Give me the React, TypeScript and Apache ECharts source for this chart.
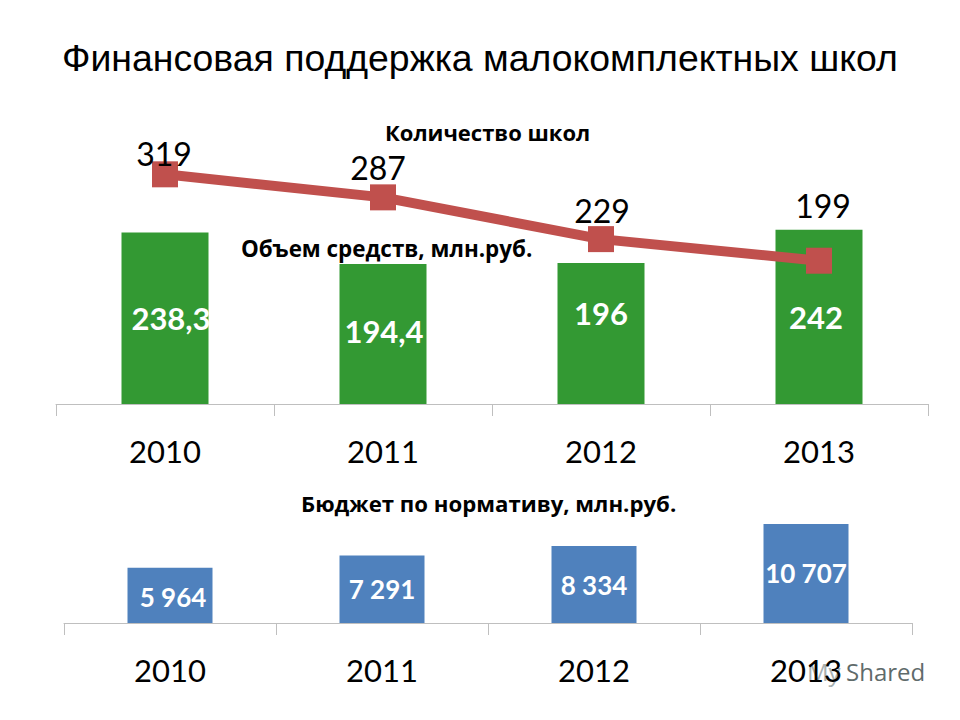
import React, { useEffect, useRef } from "react";
import * as echarts from "echarts";

const years = ["2010", "2011", "2012", "2013"];
const fundsValues = [238.3, 194.4, 196, 242];
const fundsLabels = ["238,3", "194,4", "196", "242"];
const schoolCounts = [319, 287, 229, 199];
const budgetValues = [5964, 7291, 8334, 10707];
const budgetLabels = ["5 964", "7 291", "8 334", "10 707"];

const titleText = "Финансовая поддержка малокомплектных школ";
const schoolsCaption = "Количество школ";
const fundsCaption = "Объем средств, млн.руб.";
const budgetCaption = "Бюджет по нормативу, млн.руб.";

const fundsNudge = [[6, 0], [1, -3], [0, -20], [-3, 0]];
const countNudge = [[-1, -21], [-5, -30], [1, -29], [4, -55]];
const budgetNudge = [[3, 2], [0, 0], [0, 1], [0, 0]];

const DIGIT_FONT = "Lato, 'Open Sans', sans-serif";
const CYR_FONT = "'Open Sans', 'Noto Sans', sans-serif";

export default function App() {
  const ref = useRef<HTMLDivElement>(null);
  useEffect(() => {
    if (!ref.current) return;
    const chart = echarts.init(ref.current, undefined, { renderer: "svg" });
    const axisCommon = {
      type: "category",
      data: years,
      boundaryGap: true,
      axisLine: { show: true, lineStyle: { color: "#bfbfbf", width: 1 } },
      axisTick: { show: true, length: 12, lineStyle: { color: "#bfbfbf" } },
      axisLabel: { color: "#000", fontFamily: DIGIT_FONT, fontSize: 31, margin: 31 },
      splitLine: { show: false },
    };
    chart.setOption({
      animation: false,
      backgroundColor: "#fff",
      grid: [
        { left: 56, right: 32, top: 152, bottom: 316 },
        { left: 64, right: 48, top: 512, bottom: 97 },
      ],
      xAxis: [
        { ...axisCommon, gridIndex: 0 },
        { ...axisCommon, gridIndex: 1 },
      ],
      yAxis: [
        { type: "value", gridIndex: 0, min: 0, max: 350, show: false },
        { type: "value", gridIndex: 1, min: 0, max: 12000, show: false },
      ],
      graphic: [
        {
          type: "text",
          left: 62,
          top: 39,
          style: { text: titleText, fill: "#000", font: "37.4px 'Liberation Sans', Arial, sans-serif" },
        },
        {
          type: "text",
          left: 385,
          top: 121,
          style: { text: schoolsCaption, fill: "#000", font: `bold 22px ${CYR_FONT}` },
        },
        {
          type: "text",
          left: 241,
          top: 237,
          z: 10,
          style: { text: fundsCaption, fill: "#000", font: `bold 22.4px ${CYR_FONT}` },
        },
        {
          type: "text",
          left: 301,
          top: 492,
          style: { text: budgetCaption, fill: "#000", font: `bold 22.2px ${CYR_FONT}` },
        },
        {
          type: "text",
          left: 807,
          top: 659,
          z: -1,
          style: { text: "My", fill: "#a8b0b0", font: `24px ${CYR_FONT}` },
        },
        {
          type: "text",
          left: 846,
          top: 659,
          z: -1,
          style: { text: "Shared", fill: "#5f6b6b", font: `24px ${CYR_FONT}` },
        },
      ],
      series: [
        {
          type: "bar",
          xAxisIndex: 0,
          yAxisIndex: 0,
          barWidth: 87,
          itemStyle: { color: "#339933" },
          data: fundsValues.map((v, i) => ({
            value: v,
            label: {
              show: true,
              position: "inside",
              offset: fundsNudge[i],
              formatter: fundsLabels[i],
              color: "#fff",
              fontWeight: "bold",
              fontFamily: DIGIT_FONT,
              fontSize: 31,
            },
          })),
          z: 2,
        },
        {
          type: "line",
          xAxisIndex: 0,
          yAxisIndex: 0,
          symbol: "rect",
          symbolSize: 26,
          lineStyle: { color: "#c0504d", width: 10 },
          itemStyle: { color: "#c0504d" },
          data: schoolCounts.map((v, i) => ({
            value: v,
            label: {
              show: true,
              position: "inside",
              offset: countNudge[i],
              color: "#000",
              fontFamily: DIGIT_FONT,
              fontSize: 32,
            },
          })),
          z: 3,
        },
        {
          type: "bar",
          xAxisIndex: 1,
          yAxisIndex: 1,
          barWidth: 85,
          itemStyle: { color: "#4f81bd" },
          data: budgetValues.map((v, i) => ({
            value: v,
            label: {
              show: true,
              position: "inside",
              offset: budgetNudge[i],
              formatter: budgetLabels[i],
              color: "#fff",
              fontWeight: "bold",
              fontFamily: DIGIT_FONT,
              fontSize: 26,
            },
          })),
        },
      ],
    });
    return () => chart.dispose();
  }, []);
  return (
    <div
      ref={ref}
      style={{ position: "fixed", left: 0, top: 0, width: 960, height: 720 }}
    />
  );
}
